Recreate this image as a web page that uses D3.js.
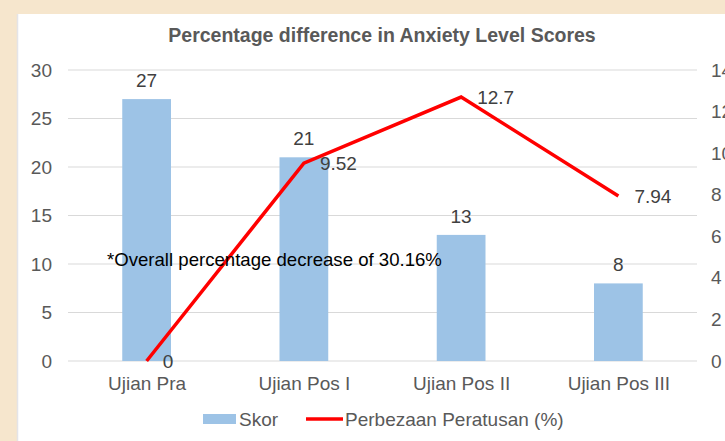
<!DOCTYPE html>
<html>
<head>
<meta charset="utf-8">
<script src="https://cdn.jsdelivr.net/npm/d3@7"></script>
<style>
  html, body { margin: 0; padding: 0; background: #f6e6cd; }
  svg { display: block; font-family: "Liberation Sans", Arial, sans-serif; }
</style>
</head>
<body>
<svg id="chart"></svg>
<script>
// data
const categories = ["Ujian Pra", "Ujian Pos I", "Ujian Pos II", "Ujian Pos III"];
const skor = [27, 21, 13, 8];
const perbezaan = [0, 9.52, 12.7, 7.94];
const leftTicks = [0, 5, 10, 15, 20, 25, 30];
const rightTicks = [0, 2, 4, 6, 8, 10, 12, 14];

const svgWidth = 725, svgHeight = 441;
const margin = { top: 70, right: 28, bottom: 80, left: 68 };
const width = svgWidth - margin.left - margin.right;
const height = svgHeight - margin.top - margin.bottom;
const fontSize = 19;

const svg = d3.select("#chart")
  .attr("width", svgWidth)
  .attr("height", svgHeight);

// white panel
svg.append("rect")
  .attr("x", 17).attr("y", 14)
  .attr("width", svgWidth - 17).attr("height", svgHeight - 14)
  .attr("fill", "#fff");
svg.append("line")
  .attr("x1", 17.5).attr("x2", 17.5).attr("y1", 14).attr("y2", svgHeight)
  .attr("stroke", "#e4e4e8").attr("stroke-width", 1.5);

svg.append("text")
  .attr("x", 382).attr("y", 42)
  .attr("text-anchor", "middle")
  .attr("font-size", 19.5).attr("font-weight", "bold")
  .attr("fill", "#595959")
  .text("Percentage difference in Anxiety Level Scores");

const g = svg.append("g")
  .attr("transform", "translate(" + margin.left + "," + margin.top + ")");

const x = d3.scaleBand().domain(categories).range([0, width]).paddingInner(0.69).paddingOuter(0.345);
const xc = d3.scalePoint().domain(categories).range([0, width]).padding(0.5);
const y = d3.scaleLinear().domain([0, 30]).range([height, 0]);
const y2 = d3.scaleLinear().domain([0, 14]).range([height, 0]);

// grid
g.append("g")
  .selectAll("line")
  .data(leftTicks)
  .join("line")
  .attr("x1", 0).attr("x2", width)
  .attr("y1", d => y(d)).attr("y2", d => y(d))
  .attr("stroke", "#d9d9d9").attr("stroke-width", 1);

// left axis
const yAxis = g.append("g")
  .call(d3.axisLeft(y).tickValues(leftTicks).tickSize(0).tickPadding(16));
yAxis.select(".domain").remove();
yAxis.selectAll("text").attr("font-size", fontSize).attr("fill", "#595959").attr("font-family", "Liberation Sans, Arial, sans-serif");

// right axis (cut off at the page edge, like the reference)
const y2Axis = g.append("g")
  .attr("transform", "translate(" + width + ",0)")
  .call(d3.axisRight(y2).tickValues(rightTicks).tickSize(0).tickPadding(14));
y2Axis.select(".domain").remove();
y2Axis.selectAll("text").attr("font-size", fontSize).attr("fill", "#595959").attr("font-family", "Liberation Sans, Arial, sans-serif");

// x axis
const xAxis = g.append("g")
  .attr("transform", "translate(0," + height + ")")
  .call(d3.axisBottom(xc).tickSize(0).tickPadding(16));
xAxis.select(".domain").remove();
xAxis.selectAll("text").attr("font-size", fontSize).attr("fill", "#595959").attr("font-family", "Liberation Sans, Arial, sans-serif");

// bars
g.selectAll(".bar")
  .data(skor)
  .join("rect")
  .attr("class", "bar")
  .attr("x", (d, i) => x(categories[i]))
  .attr("y", d => y(d))
  .attr("width", x.bandwidth())
  .attr("height", d => height - y(d))
  .attr("fill", "#9dc3e6");

g.selectAll(".barlabel")
  .data(skor)
  .join("text")
  .attr("class", "barlabel")
  .attr("x", (d, i) => xc(categories[i]))
  .attr("y", d => y(d) - 12)
  .attr("text-anchor", "middle")
  .attr("font-size", fontSize).attr("fill", "#404040")
  .text(d => d);

// line
const line = d3.line()
  .x((d, i) => xc(categories[i]))
  .y(d => y2(d));

g.append("path")
  .datum(perbezaan)
  .attr("fill", "none")
  .attr("stroke", "#ff0000")
  .attr("stroke-width", 3.5)
  .attr("stroke-linejoin", "miter")
  .attr("d", line);

g.selectAll(".linelabel")
  .data(perbezaan)
  .join("text")
  .attr("class", "linelabel")
  .attr("x", (d, i) => xc(categories[i]) + 16)
  .attr("y", d => y2(d) + 7)
  .attr("font-size", fontSize).attr("fill", "#404040")
  .text(d => d);

// annotation
g.append("text")
  .attr("x", 107 - margin.left).attr("y", 266 - margin.top)
  .attr("font-size", 18.6).attr("fill", "#000")
  .text("*Overall percentage decrease of 30.16%");

// legend
const legend = svg.append("g").attr("transform", "translate(0,419)");
legend.append("rect")
  .attr("x", 203).attr("y", -5).attr("width", 33).attr("height", 10)
  .attr("fill", "#9dc3e6");
legend.append("text")
  .attr("x", 239).attr("y", 7)
  .attr("font-size", fontSize).attr("fill", "#595959")
  .text("Skor");
legend.append("line")
  .attr("x1", 306).attr("x2", 343).attr("y1", 0).attr("y2", 0)
  .attr("stroke", "#ff0000").attr("stroke-width", 3.5);
legend.append("text")
  .attr("x", 345).attr("y", 7)
  .attr("font-size", fontSize).attr("fill", "#595959")
  .text("Perbezaan Peratusan (%)");
</script>
</body>
</html>
